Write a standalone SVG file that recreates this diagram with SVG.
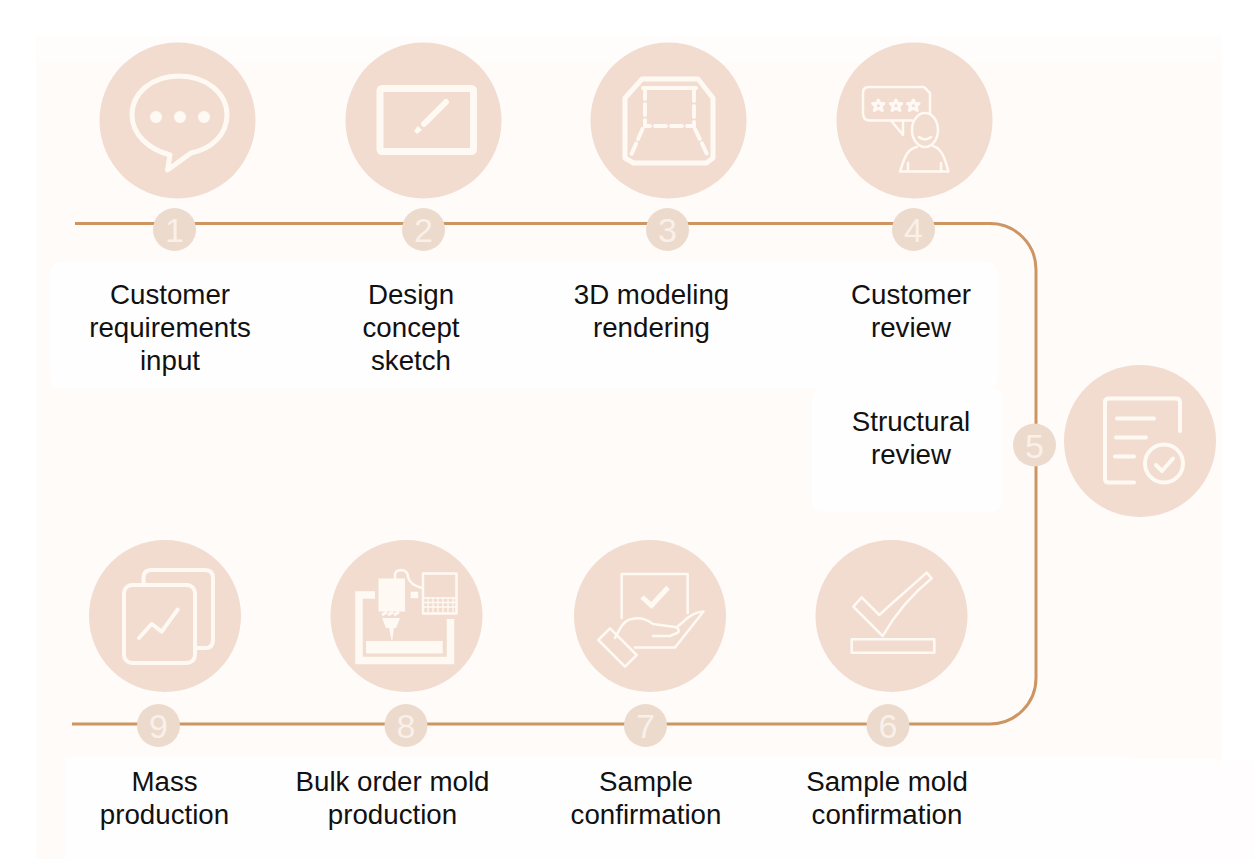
<svg xmlns="http://www.w3.org/2000/svg" width="1254" height="859" viewBox="0 0 1254 859">
<style>
.big{fill:#f1dccf}
.num{fill:#ecdacd}
.n{font:34px "Liberation Sans",Arial,sans-serif;fill:#f9f0e9;text-anchor:middle}
.t{font:27.7px "Liberation Sans",Arial,sans-serif;fill:#111;text-anchor:middle}
.i{fill:none;stroke:#fff9f3;stroke-width:4;stroke-linejoin:round;stroke-linecap:round}
.i3{fill:none;stroke:#fff9f3;stroke-width:2.5;stroke-linejoin:round;stroke-linecap:round}
.f{fill:#fff9f3}
.conn{fill:none;stroke:#cd9562;stroke-width:3}
</style>
<rect width="1254" height="859" fill="#fff"/>
<rect id="panel" x="36" y="36" width="1186" height="823" fill="#fefbf9"/>
<rect id="panel-top" x="36" y="36" width="1186" height="26" fill="#fefdfc"/>
<g id="patches" fill="#fffefe">
<rect x="50" y="262" width="948" height="126" rx="10"/>
<rect x="812" y="388" width="190" height="124" rx="10"/>
<rect x="65" y="757" width="1065" height="102"/>
<rect x="1122" y="759" width="132" height="100" fill="#fffdfd"/>
</g>
<g id="connectors">
<path class="conn" d="M75 223.500H990A46 46 0 0 1 1036 269.500V678A46 46 0 0 1 990 724H72"/>
</g>
<g id="node1">
<circle class="big" cx="177.500" cy="120.500" r="78"/>
<path class="i" style="stroke-width:5" d="M179 76C152 76 132 93 132 115C132 134 148 149 170 155L167.500 170L191 153C211 149 227 135 227 115C227 93 206 76 179 76Z"/>
<circle class="f" cx="156" cy="117" r="6"/><circle class="f" cx="180" cy="117" r="6"/><circle class="f" cx="204" cy="117" r="6"/>
<circle class="num" cx="174.500" cy="229.500" r="21.500"/><text class="n" x="174.500" y="242">1</text>
</g>
<g id="node2">
<circle class="big" cx="423.500" cy="120.500" r="78"/>
<rect x="380" y="88.500" width="93.500" height="63" rx="2" fill="none" stroke="#fff9f3" stroke-width="7"/>
<path d="M446 102L424 124" fill="none" stroke="#fff9f3" stroke-width="6" stroke-linecap="round"/>
<path class="f" d="M418 126L422 130L417 134L414 131Z"/>
<circle class="num" cx="423.500" cy="229.500" r="21.500"/><text class="n" x="423.500" y="242">2</text>
</g>
<g id="node3">
<circle class="big" cx="668.500" cy="120.500" r="78"/>
<path class="i" style="stroke-width:5" d="M642 79H698L713 98V158L706.500 163H633.500L625 158V98Z"/>
<path class="i" d="M643 88H696"/>
<path class="i" stroke-dasharray="11 5" d="M645 88V126H694V88M642.500 129L631.500 154M695 129L707 154"/>
<circle class="num" cx="667.500" cy="229.500" r="21.500"/><text class="n" x="667.500" y="242">3</text>
</g>
<g id="node4">
<circle class="big" cx="914.500" cy="120.500" r="78"/>
<path class="i3" d="M912 120.500H870Q863 120.500 863 113V93Q863 87 869 87H924L930 93V114M891 120.500L903 135V122"/>
<g fill="none" stroke="#fff9f3" stroke-width="3" stroke-linejoin="round">
<path d="M878.300 100L880 103.500H884L881 106.500L882.300 110.500L878.300 108.300L874.300 110.500L875.600 106.500L872.600 103.500H876.600Z"/>
<path d="M896 100L897.700 103.500H901.700L898.700 106.500L900 110.500L896 108.300L892 110.500L893.300 106.500L890.300 103.500H894.300Z"/>
<path d="M913.300 100L915 103.500H919L916 106.500L917.300 110.500L913.300 108.300L909.300 110.500L910.600 106.500L907.600 103.500H911.600Z"/>
</g>
<ellipse class="i3" cx="925" cy="130" rx="13" ry="17"/>
<path class="i3" d="M919 137Q925 142 931 137M917 147C906 149 904 160 900 171.500H948.500C945 160 943 149 933 146M908 171V163M941 171V163"/>
<circle class="num" cx="913.500" cy="229.500" r="21.500"/><text class="n" x="913.500" y="242">4</text>
</g>
<g id="node5">
<circle class="big" cx="1140" cy="441" r="76"/>
<path class="i" d="M1180 431V402Q1180 398.500 1176 398.500H1109Q1105 398.500 1105 402V479Q1105 482.500 1109 482.500H1134"/>
<path class="i" d="M1117 418.500H1154M1116 437.500H1146M1115 456.500H1134"/>
<circle class="i" cx="1164" cy="463.500" r="19"/>
<path class="i" d="M1156 465L1162 471L1173 458.500"/>
<circle class="num" cx="1034.500" cy="445" r="21.500"/><text class="n" x="1034.500" y="457.500">5</text>
</g>
<g id="node6">
<circle class="big" cx="891.500" cy="616" r="76"/>
<path class="i3" d="M861.700 597.300L853.300 606.700L882.700 636C893 618 910 596 931.700 578.300L926.700 572.700C910 588 895 600 879.300 615Z"/>
<rect class="i3" x="851.700" y="639.300" width="82.600" height="13.400"/>
<circle class="num" cx="888" cy="725.500" r="21.500"/><text class="n" x="888" y="738">6</text>
</g>
<g id="node7">
<circle class="big" cx="650" cy="616" r="76"/>
<path class="i3" d="M621.700 618V574H687.700V613"/>
<path d="M642 597L651.500 605.500L668 587.500" fill="none" stroke="#fff9f3" stroke-width="5"/>
<path class="i3" d="M610 628.300L598.300 640L625 666.700L636.700 655ZM615 638C620 628 624 620 632 619C640 617 646 619 653 624L675 627C679 628 680 632 677 633L670 636H653M635 647.500H675L703.500 611.500C695 612 688 617 683 622L677 627"/>
<circle class="num" cx="645.500" cy="725.500" r="21.500"/><text class="n" x="645.500" y="738">7</text>
</g>
<g id="node8">
<circle class="big" cx="406.500" cy="616" r="76"/>
<path d="M375 595H359V660.500H450.500V619" fill="none" stroke="#fff9f3" stroke-width="7.500"/>
<rect class="f" x="366" y="641" width="76.700" height="12.500"/>
<rect class="f" x="378.500" y="578.500" width="26.500" height="33"/>
<path d="M382 615L387 612M388 615L393 612M394 615L399 612" stroke="#fff9f3" stroke-width="3" fill="none"/>
<path class="f" d="M382 618H400L396 628H394L392 642L389 628H386Z"/>
<path class="i3" d="M395 578V574Q396 570 402 570Q408 571 408 577Q410 585 422 588"/>
<rect class="f" x="410.700" y="591.700" width="7.500" height="6.500"/>
<rect class="i3" x="423" y="573.500" width="33.500" height="40"/>
<path d="M424 598H456M424 602.500H456M424 607H456M428 597V613M433 597V613M438 597V613M443 597V613M448 597V613M453 597V613" stroke="#fff9f3" stroke-width="1.300" fill="none"/>
<circle class="num" cx="406" cy="725.500" r="21.500"/><text class="n" x="406" y="738">8</text>
</g>
<g id="node9">
<circle class="big" cx="165" cy="616" r="76"/>
<rect class="i" x="124" y="585" width="71" height="78" rx="8"/>
<path class="i" d="M143.500 584V578Q143.500 570 151 570H205Q213 570 213 578V640Q213 648 205 648H195"/>
<path class="i" d="M139 638L151.700 624L161.700 631.700L177.700 609.500"/>
<circle class="num" cx="158.500" cy="725.500" r="21.500"/><text class="n" x="158.500" y="738">9</text>
</g>
<g id="labels">
<text class="t" x="170" y="304">Customer</text>
<text class="t" x="170" y="337">requirements</text>
<text class="t" x="170" y="370">input</text>
<text class="t" x="411" y="304">Design</text>
<text class="t" x="411" y="337">concept</text>
<text class="t" x="411" y="370">sketch</text>
<text class="t" x="651.500" y="304">3D modeling</text>
<text class="t" x="651.500" y="337">rendering</text>
<text class="t" x="911" y="304">Customer</text>
<text class="t" x="911" y="337">review</text>
<text class="t" x="911" y="431">Structural</text>
<text class="t" x="911" y="464">review</text>
<text class="t" x="164.500" y="791">Mass</text>
<text class="t" x="164.500" y="824">production</text>
<text class="t" x="392.500" y="791">Bulk order mold</text>
<text class="t" x="392.500" y="824">production</text>
<text class="t" x="646" y="791">Sample</text>
<text class="t" x="646" y="824">confirmation</text>
<text class="t" x="887" y="791">Sample mold</text>
<text class="t" x="887" y="824">confirmation</text>
</g>
</svg>
